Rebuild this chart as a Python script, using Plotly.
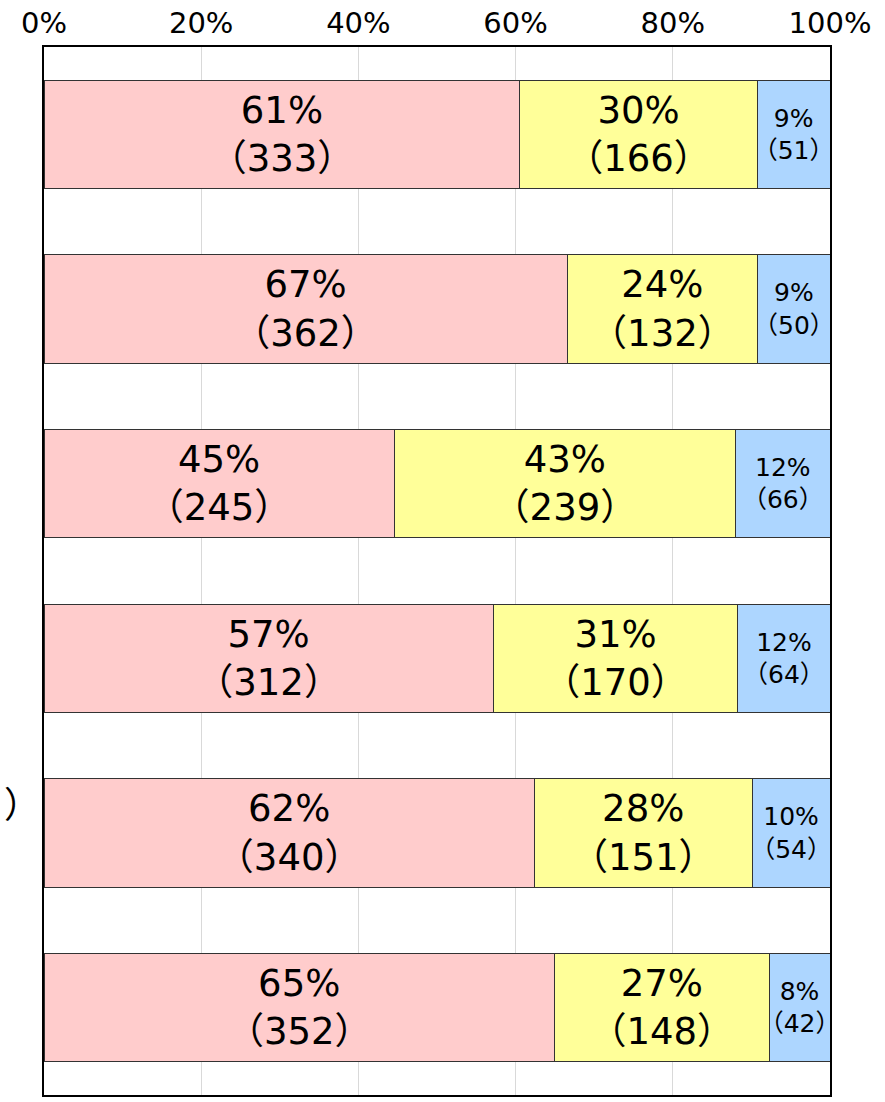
import plotly.graph_objects as go

categories = ["A", "B", "C", "D", "E", "F"]
series_names = ["pink", "yellow", "blue"]
counts_pink = [333, 362, 245, 312, 340, 352]
counts_yellow = [166, 132, 239, 170, 151, 148]
counts_blue = [51, 50, 66, 64, 54, 42]
pct_pink = [61, 67, 45, 57, 62, 65]
pct_yellow = [30, 24, 43, 31, 28, 27]
pct_blue = [9, 9, 12, 12, 10, 8]
tick_vals = [0, 20, 40, 60, 80, 100]
tick_text = ["0%", "20%", "40%", "60%", "80%", "100%"]

colors = ["#FFCCCC", "#FFFF99", "#ADD6FF"]
font_fam = "DejaVu Sans, Noto Sans CJK JP"
cjk = "Noto Sans CJK JP"

fig = go.Figure()
series = [
    (counts_pink, pct_pink, colors[0], 37),
    (counts_yellow, pct_yellow, colors[1], 37),
    (counts_blue, pct_blue, colors[2], 25),
]
for name, (cnts, pcts, col, fs) in zip(series_names, series):
    fig.add_trace(go.Bar(
        y=categories, x=cnts, name=name, orientation="h",
        marker=dict(color=col, line=dict(color="#333333", width=1)),
        text=[f"{p}%<br>（{c}）" for p, c in zip(pcts, cnts)],
        textposition="inside", insidetextanchor="middle",
        textangle=0, constraintext="none",
        insidetextfont=dict(family=font_fam, size=fs, color="#000000"),
        hoverinfo="skip",
    ))

fig.update_layout(
    barmode="stack", barnorm="percent", bargap=0.38,
    width=885, height=1102,
    margin=dict(l=44, r=55, t=47, b=7, autoexpand=False),
    paper_bgcolor="white", plot_bgcolor="white",
    showlegend=False,
    font=dict(family=font_fam, color="#000000"),
    xaxis=dict(
        side="top", range=[0, 100], tickvals=tick_vals, ticktext=tick_text,
        tickfont=dict(family=font_fam, size=29, color="#000000"),
        showgrid=True, gridcolor="#D9D9D9", gridwidth=1,
        showline=True, linecolor="#000000", linewidth=2, mirror=True,
        zeroline=False, ticks="", fixedrange=True, automargin=False,
    ),
    yaxis=dict(
        autorange="reversed", showticklabels=False, ticks="",
        showline=True, linecolor="#000000", linewidth=2, mirror=True,
        showgrid=False, fixedrange=True, automargin=False,
    ),
    annotations=[dict(
        x=-0.053, xref="paper", y=categories[4], yref="y", yshift=31,
        text="）", showarrow=False, xanchor="left",
        font=dict(family=cjk, size=36, color="#000000"),
    )],
)

fig.write_html(
    "out.html",
    config={"displayModeBar": False, "staticPlot": True},
    post_script="document.body.style.margin='0';document.body.style.overflow='hidden';",
)
